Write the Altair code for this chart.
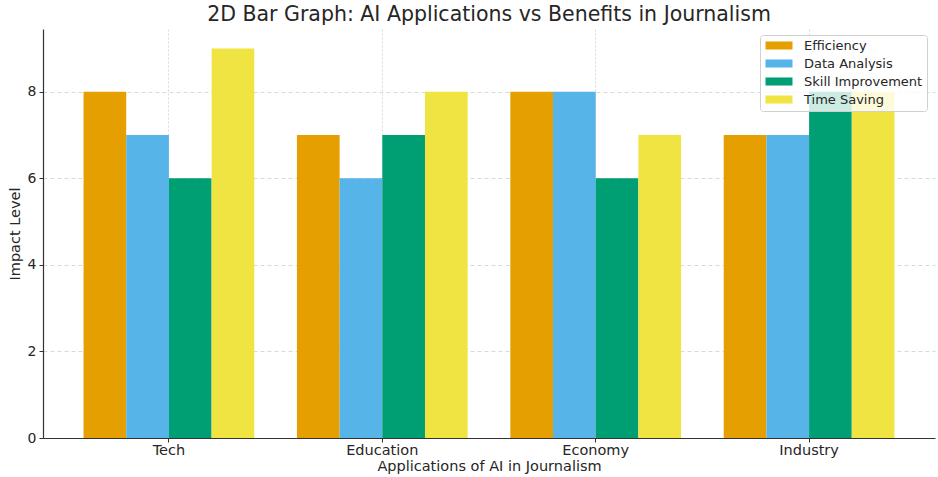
import altair as alt
import pandas as pd

# Impact scores per application area and benefit type
applications = ["Tech", "Education", "Economy", "Industry"]
benefits = ["Efficiency", "Data Analysis", "Skill Improvement", "Time Saving"]
efficiency = [8, 7, 8, 7]
data_analysis = [7, 6, 8, 7]
skill_improvement = [6, 7, 6, 8]
time_saving = [9, 8, 7, 8]
palette = ["#E69F00", "#56B4E9", "#009E73", "#F0E442"]

series = [efficiency, data_analysis, skill_improvement, time_saving]
rows = []
for benefit, values in zip(benefits, series):
    for app, v in zip(applications, values):
        rows.append({"Application": app, "Benefit": benefit, "Impact": v})
df = pd.DataFrame(rows)

font = "DejaVu Sans"
ink = "#262626"

bars = alt.Chart(df).mark_bar().encode(
    x=alt.X(
        "Application:N",
        sort=applications,
        scale=alt.Scale(paddingInner=0.2, paddingOuter=0.19),
        axis=alt.Axis(
            title="Applications of AI in Journalism",
            labelAngle=0,
            labelFontSize=14.5,
            titleFontSize=14.5,
            labelPadding=1,
            titlePadding=3,
            tickSize=4,
            grid=True,
            gridDash=[2, 2],
            gridColor="#cfcfcf",
            gridWidth=0.8,
        ),
    ),
    xOffset=alt.XOffset(
        "Benefit:N", sort=benefits, scale=alt.Scale(paddingInner=0, paddingOuter=0)
    ),
    y=alt.Y(
        "Impact:Q",
        scale=alt.Scale(domain=[0, 9.45], nice=False),
        axis=alt.Axis(
            title="Impact Level",
            values=[0, 2, 4, 6, 8],
            labelFontSize=14,
            titleFontSize=14.5,
            tickSize=4,
            labelPadding=3,
            titlePadding=5,
            gridDash=[4, 3],
            gridColor="#cfcfcf",
            gridWidth=0.8,
        ),
    ),
    color=alt.Color(
        "Benefit:N",
        sort=benefits,
        scale=alt.Scale(domain=benefits, range=palette),
        legend=alt.Legend(
            title=None,
            orient="none",
            legendX=717,
            legendY=6,
            symbolType="M-2.25,-0.67H2.25V0.67H-2.25Z",
            symbolSize=144,
            symbolStrokeWidth=0,
            symbolOffset=8.5,
            labelFontSize=13,
            labelOffset=18.5,
            rowPadding=4,
            padding=4,
            offset=0,
            fillColor="rgba(255,255,255,0.8)",
            strokeColor="#d0d0d0",
            cornerRadius=3,
        ),
    ),
)

chart = (
    bars.properties(
        width=892,
        height=409,
        title=alt.TitleParams(
            "2D Bar Graph: AI Applications vs Benefits in Journalism",
            fontSize=20.5,
            fontWeight="normal",
            offset=4,
            anchor="middle",
        ),
        autosize=alt.AutoSizeParams(type="none"),
        padding={"left": 43, "top": 29, "right": 3, "bottom": 39},
    )
    .configure(font=font)
    .configure_view(stroke=None)
    .configure_axis(
        domainColor="#333333",
        domainWidth=1.2,
        tickColor="#333333",
        labelColor=ink,
        titleColor=ink,
        titleFontWeight="normal",
        labelFont=font,
        titleFont=font,
    )
    .configure_legend(labelColor=ink, labelFont=font)
    .configure_title(color=ink, font=font)
)

chart.save("out.html", embed_options={"renderer": "svg", "actions": False})
